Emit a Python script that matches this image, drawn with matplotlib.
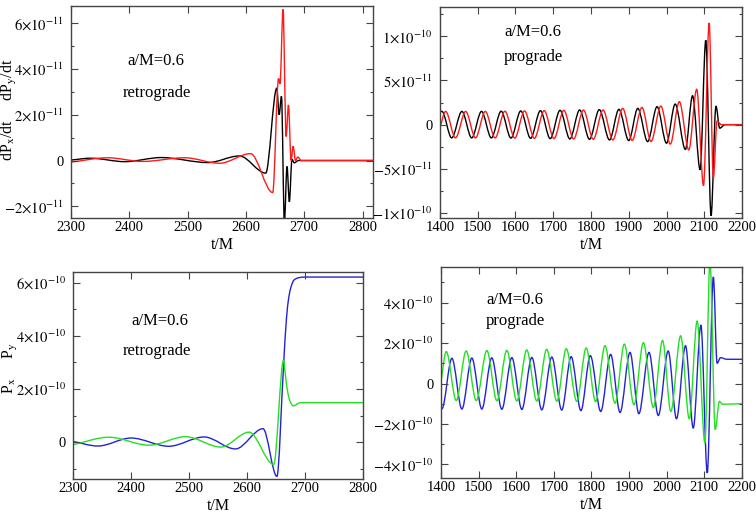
import numpy as np
import matplotlib
matplotlib.use("Agg")
import matplotlib.pyplot as plt
from matplotlib.path import Path
from matplotlib.patches import PathPatch

plt.rcParams["font.family"] = "Liberation Serif"
plt.rcParams["mathtext.fontset"] = "stix"

# turning points (t/M, value)

# top left: retrograde dP/dt, values in 1e-11
retro_dpx_t = [2300, 2334, 2392, 2455, 2535, 2589, 2634, 2653, 2657, 2661, 2666,
               2670.5, 2674.5, 2679, 2683, 2690, 2818]
retro_dpx_v = [0.02, 0.1, -0.05, 0.13, -0.09, 0.2, -0.55, 3.16, 2.0, 2.8, -2.7,
               -0.26, -1.8, 0.05, -0.1, 0.0, 0.0]
retro_dpy_t = [2300, 2363, 2423, 2495, 2555, 2608, 2646, 2656, 2658.5, 2663.7, 2669,
               2673, 2677.5, 2681, 2685, 2689, 2695, 2818]
retro_dpy_v = [-0.07, 0.12, -0.04, 0.12, -0.12, 0.3, -1.4, 3.58, 3.35, 6.6, 1.05,
               2.43, 0.0, 0.62, 0.0, 0.15, 0.0, 0.0]

# top right: prograde dP/dt, values in 1e-11
pro_dpx_t = [1400, 1405, 1431, 1458, 1484, 1510, 1536, 1562, 1588, 1614, 1640, 1666,
             1692, 1718, 1744, 1770, 1796, 1822, 1849, 1874, 1900, 1924, 1950, 1975,
             2000, 2023, 2050, 2069, 2089, 2104, 2118, 2131, 2141, 2155, 2200]
pro_dpx_v = [1.45, 1.5, -1.5, 1.5, -1.5, 1.5, -1.5, 1.52, -1.52, 1.55, -1.55, 1.58,
             -1.58, 1.62, -1.62, 1.66, -1.66, 1.7, -1.73, 1.73, -1.8, 1.84, -1.92, 2.03,
             -2.1, 2.33, -2.8, 3.27, -5.1, 9.55, -10.3, 2.1, -0.4, 0.0, 0.0]
pro_dpy_t = [1400, 1415, 1441, 1468, 1494, 1520, 1546, 1572, 1598, 1624, 1650, 1676,
             1702, 1728, 1754, 1780, 1806, 1832, 1858, 1884, 1909, 1935, 1959, 1985,
             2010, 2034, 2059, 2080, 2098, 2113, 2124, 2134, 2145, 2200]
pro_dpy_v = [-0.3, 1.5, -1.5, 1.5, -1.5, 1.5, -1.5, 1.52, -1.52, 1.55, -1.55, 1.58,
             -1.58, 1.62, -1.62, 1.65, -1.66, 1.65, -1.73, 1.84, -1.78, 1.95, -1.9, 2.1,
             -2.2, 2.6, -2.86, 4.0, -6.9, 11.5, -6.05, 0.4, 0.0, 0.0]

# bottom left: retrograde P, values in 1e-10
retro_px_t = [2300, 2343, 2400, 2465, 2526, 2580, 2627.5, 2651.5, 2663, 2668, 2672,
              2676, 2681, 2690, 2700, 2800]
retro_px_v = [0.03, -0.14, 0.16, -0.15, 0.2, -0.25, 0.51, -1.28, 2.9, 4.66, 5.45,
              5.85, 6.1, 6.19, 6.21, 6.21]
retro_py_t = [2300, 2362, 2431, 2494, 2555, 2603.5, 2646, 2663, 2666, 2670, 2674,
              2680, 2692, 2800]
retro_py_v = [-0.09, 0.19, -0.11, 0.21, -0.18, 0.38, -0.83, 3.09, 2.55, 1.9, 1.55,
              1.37, 1.49, 1.49]

# bottom right: prograde P, values in 1e-10
pro_px_t = [1400, 1402.5, 1429, 1455.6, 1482, 1508.7, 1535, 1561.8, 1588.4, 1615,
            1641.5, 1668, 1694.6, 1721, 1746, 1772, 1797, 1824.6, 1851, 1876, 1902.5,
            1926, 1953, 1977.7, 2004, 2026, 2050, 2070.6, 2091, 2107.8, 2124, 2134,
            2143, 2160, 2200]
pro_px_v = [-1.22, -1.25, 1.25, -1.26, 1.26, -1.26, 1.27, -1.27, 1.28, -1.28, 1.29,
            -1.3, 1.31, -1.31, 1.33, -1.34, 1.38, -1.38, 1.44, -1.43, 1.54, -1.49,
            1.54, -1.58, 1.61, -1.74, 1.87, -2.2, 2.89, -4.42, 5.27, 1.0, 1.28, 1.2, 1.2]
pro_py_t = [1400, 1414, 1440.6, 1467, 1493.7, 1522, 1548.6, 1575, 1601.6, 1628,
            1654.7, 1681, 1708, 1733, 1761, 1786, 1811, 1836, 1862.7, 1887.5, 1913,
            1938, 1964.5, 1989, 2011, 2037, 2060, 2081, 2101.6, 2115, 2129, 2140,
            2148, 2200]
pro_py_v = [0.1, 1.58, -0.84, 1.61, -0.84, 1.63, -0.85, 1.64, -0.86, 1.66, -0.86,
            1.69, -0.87, 1.72, -0.88, 1.76, -0.89, 1.87, -0.97, 1.95, -1.05, 2.02,
            -1.18, 2.13, -1.38, 2.36, -1.74, 3.09, -2.94, 6.1, -2.28, -0.88, -1.02, -1.0]

dp_ticks_retro = [-2e-11, 0, 2e-11, 4e-11, 6e-11]
dp_labels_retro = [r"$-2{\times}10^{-11}$", "0", r"$2{\times}10^{-11}$",
                   r"$4{\times}10^{-11}$", r"$6{\times}10^{-11}$"]
dp_ticks_pro = [-1e-10, -5e-11, 0, 5e-11, 1e-10]
dp_labels_pro = [r"$-1{\times}10^{-10}$", r"$-5{\times}10^{-11}$", "0",
                 r"$5{\times}10^{-11}$", r"$1{\times}10^{-10}$"]
p_ticks_retro = [0, 2e-10, 4e-10, 6e-10]
p_labels_retro = ["0", r"$2{\times}10^{-10}$", r"$4{\times}10^{-10}$", r"$6{\times}10^{-10}$"]
p_ticks_pro = [-4e-10, -2e-10, 0, 2e-10, 4e-10]
p_labels_pro = [r"$-4{\times}10^{-10}$", r"$-2{\times}10^{-10}$", "0",
                r"$2{\times}10^{-10}$", r"$4{\times}10^{-10}$"]

RED = "#ff1a1a"
GREEN = "#22e022"
BLUE = "#2222d8"


def curve(ax, t, v, scale, color):
    # smooth monotone cubic through the read points, drawn by matplotlib as bezier path
    t = np.asarray(t, float)
    v = np.asarray(v, float) * scale
    h = np.diff(t)
    s = np.diff(v) / h
    d = np.zeros_like(t)
    d[0] = s[0]
    d[-1] = s[-1]
    for i in range(1, len(t) - 1):
        if s[i - 1] * s[i] > 0:
            w1 = 2 * h[i] + h[i - 1]
            w2 = h[i] + 2 * h[i - 1]
            d[i] = (w1 + w2) / (w1 / s[i - 1] + w2 / s[i])
    verts = [(t[0], v[0])]
    codes = [Path.MOVETO]
    for i in range(len(h)):
        verts += [(t[i] + h[i] / 3, v[i] + d[i] * h[i] / 3),
                  (t[i + 1] - h[i] / 3, v[i + 1] - d[i + 1] * h[i] / 3),
                  (t[i + 1], v[i + 1])]
        codes += [Path.CURVE4] * 3
    ax.add_patch(PathPatch(Path(verts, codes), fill=False, edgecolor=color, lw=1.0))


def style(ax, xlim, ylim, xticks, yticks, ylabels, yminor):
    ax.set_xlim(*xlim)
    ax.set_ylim(*ylim)
    ax.set_xticks(xticks)
    ax.set_xticklabels([str(x) for x in xticks])
    ax.set_yticks(yticks)
    ax.set_yticklabels(ylabels)
    ax.set_yticks(yminor, minor=True)
    ax.tick_params(which="both", direction="in", top=True, right=True,
                   labelsize=10.5, color="#444444")
    ax.tick_params(which="major", length=5, width=0.8)
    ax.tick_params(axis="y", which="major", pad=5)
    ax.tick_params(axis="x", which="major", pad=2.5)
    ax.tick_params(which="minor", length=2.5, width=0.8)
    for sp in ax.spines.values():
        sp.set_color("#444444")
        sp.set_linewidth(1.0)
    ax.set_xlabel("t/M", fontsize=11.5, labelpad=1.5)


fig = plt.figure(figsize=(7.56, 5.14), dpi=100)

ax1 = fig.add_axes([0.0939, 0.5759, 0.3995, 0.4125])
curve(ax1, retro_dpx_t, retro_dpx_v, 1e-11, "black")
curve(ax1, retro_dpy_t, retro_dpy_v, 1e-11, RED)
style(ax1, (2300, 2818), (-2.51e-11, 6.75e-11), [2300, 2400, 2500, 2600, 2700, 2800],
      dp_ticks_retro, dp_labels_retro, np.arange(-2e-11, 6.6e-11, 1e-11))
ax1.text(0.281, 0.741, "a/M=0.6", transform=ax1.transAxes, fontsize=12, ha="center", va="center")
ax1.text(0.285, 0.590, "retrograde", transform=ax1.transAxes, fontsize=12, ha="center", va="center")

ax2 = fig.add_axes([0.582, 0.5759, 0.3995, 0.4105])
curve(ax2, pro_dpx_t, pro_dpx_v, 1e-11, "black")
curve(ax2, pro_dpy_t, pro_dpy_v, 1e-11, RED)
style(ax2, (1400, 2200), (-1.056e-10, 1.331e-10), list(range(1400, 2201, 100)),
      dp_ticks_pro, dp_labels_pro, np.arange(-1e-10, 1.3e-10, 2.5e-11))
ax2.text(0.308, 0.882, "a/M=0.6", transform=ax2.transAxes, fontsize=12, ha="center", va="center")
ax2.text(0.308, 0.763, "prograde", transform=ax2.transAxes, fontsize=12, ha="center", va="center")

ax3 = fig.add_axes([0.0966, 0.0681, 0.3836, 0.4027])
curve(ax3, retro_px_t, retro_px_v, 1e-10, BLUE)
curve(ax3, retro_py_t, retro_py_v, 1e-10, GREEN)
style(ax3, (2300, 2800), (-1.38e-10, 6.4e-10), [2300, 2400, 2500, 2600, 2700, 2800],
      p_ticks_retro, p_labels_retro, np.arange(-1e-10, 6.4e-10, 1e-10))
ax3.text(0.30, 0.763, "a/M=0.6", transform=ax3.transAxes, fontsize=12, ha="center", va="center")
ax3.text(0.29, 0.618, "retrograde", transform=ax3.transAxes, fontsize=12, ha="center", va="center")

ax4 = fig.add_axes([0.5833, 0.07, 0.3981, 0.4105])
curve(ax4, pro_px_t, pro_px_v, 1e-10, BLUE)
curve(ax4, pro_py_t, pro_py_v, 1e-10, GREEN)
style(ax4, (1400, 2200), (-4.67e-10, 5.76e-10), list(range(1400, 2201, 100)),
      p_ticks_pro, p_labels_pro, np.arange(-4e-10, 5.7e-10, 1e-10))
ax4.text(0.246, 0.844, "a/M=0.6", transform=ax4.transAxes, fontsize=12, ha="center", va="center")
ax4.text(0.246, 0.744, "prograde", transform=ax4.transAxes, fontsize=12, ha="center", va="center")

fig.text(9 / 756, 1 - 110 / 514, r"dP$_\mathrm{x}$/dt     dP$_\mathrm{y}$/dt",
         rotation=90, ha="center", va="center", fontsize=11.5)
fig.text(10 / 756, 1 - 368 / 514, r"P$_\mathrm{x}$     P$_\mathrm{y}$",
         rotation=90, ha="center", va="center", fontsize=11.5)

fig.savefig("out.png", dpi=100)
